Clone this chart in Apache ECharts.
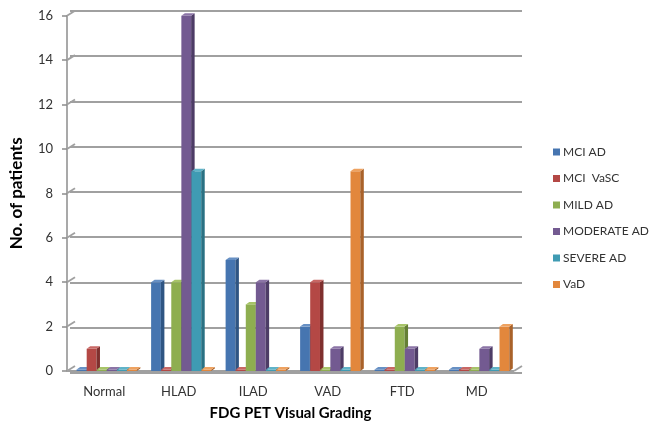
<!DOCTYPE html>
<html>
<head>
<meta charset="utf-8">
<script src="https://cdn.jsdelivr.net/npm/echarts@6/dist/echarts.min.js"></script>
<style>
  html, body { margin: 0; padding: 0; background: #fff; }
  #chart { width: 653px; height: 426px; }
</style>
</head>
<body>
<div id="chart"></div>
<script>
// Patient counts per FDG PET visual grading category
const categories = ['Normal', 'HLAD', 'ILAD', 'VAD', 'FTD', 'MD'];
const seriesNames = ['MCI AD', 'MCI  VaSC', 'MILD AD', 'MODERATE AD', 'SEVERE AD', 'VaD'];
const mciAD      = [0, 4, 5, 2, 0, 0];
const mciVaSC    = [1, 0, 0, 4, 0, 0];
const mildAD     = [0, 4, 3, 0, 2, 0];
const moderateAD = [0, 16, 4, 1, 1, 1];
const severeAD   = [0, 9, 0, 0, 0, 0];
const vaD        = [0, 0, 0, 9, 0, 2];
const seriesValues = [mciAD, mciVaSC, mildAD, moderateAD, severeAD, vaD];
const yTicks = [0, 2, 4, 6, 8, 10, 12, 14, 16];

// front / side / top shades for the pseudo-3D columns
const palette = [
  { front: '#4675b0', side: '#2f5583', top: '#6790c4' },
  { front: '#b44845', side: '#7f302e', top: '#c86764' },
  { front: '#8eae50', side: '#657f35', top: '#a7c468' },
  { front: '#735a91', side: '#4d3c66', top: '#8b74a6' },
  { front: '#3f9bb3', side: '#2a7183', top: '#5fb3c8' },
  { front: '#e2873c', side: '#a9622a', top: '#eea260' }
];

const DEPTH_X = 3.5, DEPTH_Y = 2.5;   // column depth
const WALL_X = 8, WALL_Y = 5;        // back-wall offset
const GRID_LEFT = 62, GRID_RIGHT = 139, GRID_TOP = 15.7, GRID_BOTTOM = 48;

function columnRenderer(si) {
  return function (params, api) {
    const cat = api.value(0);
    const v = api.value(1);
    const base = api.coord([cat, 0]);
    const topPt = api.coord([cat, v]);
    const band = api.size([1, 0])[0];
    const groupW = band * 0.812;
    const slot = groupW / seriesNames.length;
    const w = slot - 0.3;
    const x = base[0] - groupW / 2 + band * 0.035 + si * slot;
    const y0 = base[1];
    let yt = topPt[1];
    if (y0 - yt < 1.5) yt = y0 - 1.5;
    const c = palette[si];
    return {
      type: 'group',
      children: [
        { type: 'rect', shape: { x: x, y: yt, width: w, height: y0 - yt },
          style: { fill: c.front } },
        { type: 'polygon', shape: { points: [[x + w, yt], [x + w + DEPTH_X, yt - DEPTH_Y],
            [x + w + DEPTH_X, y0 - DEPTH_Y], [x + w, y0]] },
          style: { fill: c.side } },
        { type: 'polygon', shape: { points: [[x, yt], [x + DEPTH_X, yt - DEPTH_Y],
            [x + w + DEPTH_X, yt - DEPTH_Y], [x + w, yt]] },
          style: { fill: c.top } }
      ]
    };
  };
}

// short diagonal links between the value axis and the back-wall gridlines, plus floor edge
function wallLinks(params, api) {
  const v = api.value(0);
  const cs = params.coordSys;
  const y = api.coord([0, v])[1];
  const lineStyle = { stroke: '#a0a0a0', lineWidth: 1.8 };
  const children = [
    { type: 'line', shape: { x1: cs.x, y1: y, x2: cs.x + WALL_X, y2: y - WALL_Y }, style: lineStyle }
  ];
  if (v === 0) {
    children.push({ type: 'line', shape: { x1: cs.x + cs.width, y1: y, x2: cs.x + cs.width + WALL_X, y2: y - WALL_Y }, style: lineStyle });
    children.push({ type: 'line', shape: { x1: cs.x, y1: y, x2: cs.x + cs.width, y2: y }, style: lineStyle });
  }
  return { type: 'group', children: children };
}

const font = 'Lato, "Open Sans", sans-serif';

const series = seriesNames.map(function (name, si) {
  return {
    name: name,
    type: 'custom',
    xAxisIndex: 0,
    yAxisIndex: 0,
    renderItem: columnRenderer(si),
    encode: { x: 0, y: 1 },
    data: seriesValues[si].map(function (val, ci) { return [ci, val]; }),
    z: 5,
    itemStyle: { color: palette[si].front }
  };
});

series.push({
  type: 'custom',
  xAxisIndex: 0,
  yAxisIndex: 0,
  renderItem: wallLinks,
  encode: { y: 0 },
  data: yTicks.map(function (t) { return [t]; }),
  silent: true,
  z: 2
});

const chart = echarts.init(document.getElementById('chart'), null, { renderer: 'canvas' });
chart.setOption({
  animation: false,
  backgroundColor: '#ffffff',
  textStyle: { fontFamily: font },
  grid: [
    { left: GRID_LEFT, right: GRID_RIGHT, top: GRID_TOP, bottom: GRID_BOTTOM },
    { left: GRID_LEFT + WALL_X, right: GRID_RIGHT - WALL_X, top: GRID_TOP - WALL_Y, bottom: GRID_BOTTOM + WALL_Y }
  ],
  xAxis: [
    {
      type: 'category', gridIndex: 0, data: categories,
      axisLine: { show: false },
      axisTick: { show: false },
      axisLabel: { margin: 14, fontSize: 13, color: '#333', fontFamily: font },
      name: 'FDG PET Visual Grading', nameLocation: 'middle', nameGap: 35,
      nameTextStyle: { fontSize: 15, fontWeight: 'bold', color: '#000', fontFamily: font }
    },
    { type: 'category', gridIndex: 1, data: categories, show: false }
  ],
  yAxis: [
    {
      type: 'value', gridIndex: 0, min: 0, max: 16, interval: 2,
      axisLine: { show: true, lineStyle: { color: '#8c8c8c', width: 1.5 } },
      axisTick: { show: true, length: 5, lineStyle: { color: '#8c8c8c', width: 1.5 } },
      splitLine: { show: false },
      axisLabel: { margin: 14, fontSize: 13, color: '#333', fontFamily: font },
      name: 'No. of patients', nameLocation: 'middle', nameGap: 42, nameRotate: 90,
      nameTextStyle: { fontSize: 17, fontWeight: 'bold', color: '#000', fontFamily: font }
    },
    {
      type: 'value', gridIndex: 1, min: 0, max: 16, interval: 2,
      axisLine: { show: false }, axisTick: { show: false }, axisLabel: { show: false },
      splitLine: { show: true, lineStyle: { color: '#a0a0a0', width: 1.8 } }
    }
  ],
  legend: {
    orient: 'vertical',
    left: 548, top: 141,
    itemWidth: 7, itemHeight: 7, itemGap: 14.5,
    icon: 'rect',
    data: seriesNames,
    textStyle: { fontSize: 12, color: '#333', fontFamily: font, padding: [0, 0, 0, -2] }
  },
  series: series
});
</script>
</body>
</html>
